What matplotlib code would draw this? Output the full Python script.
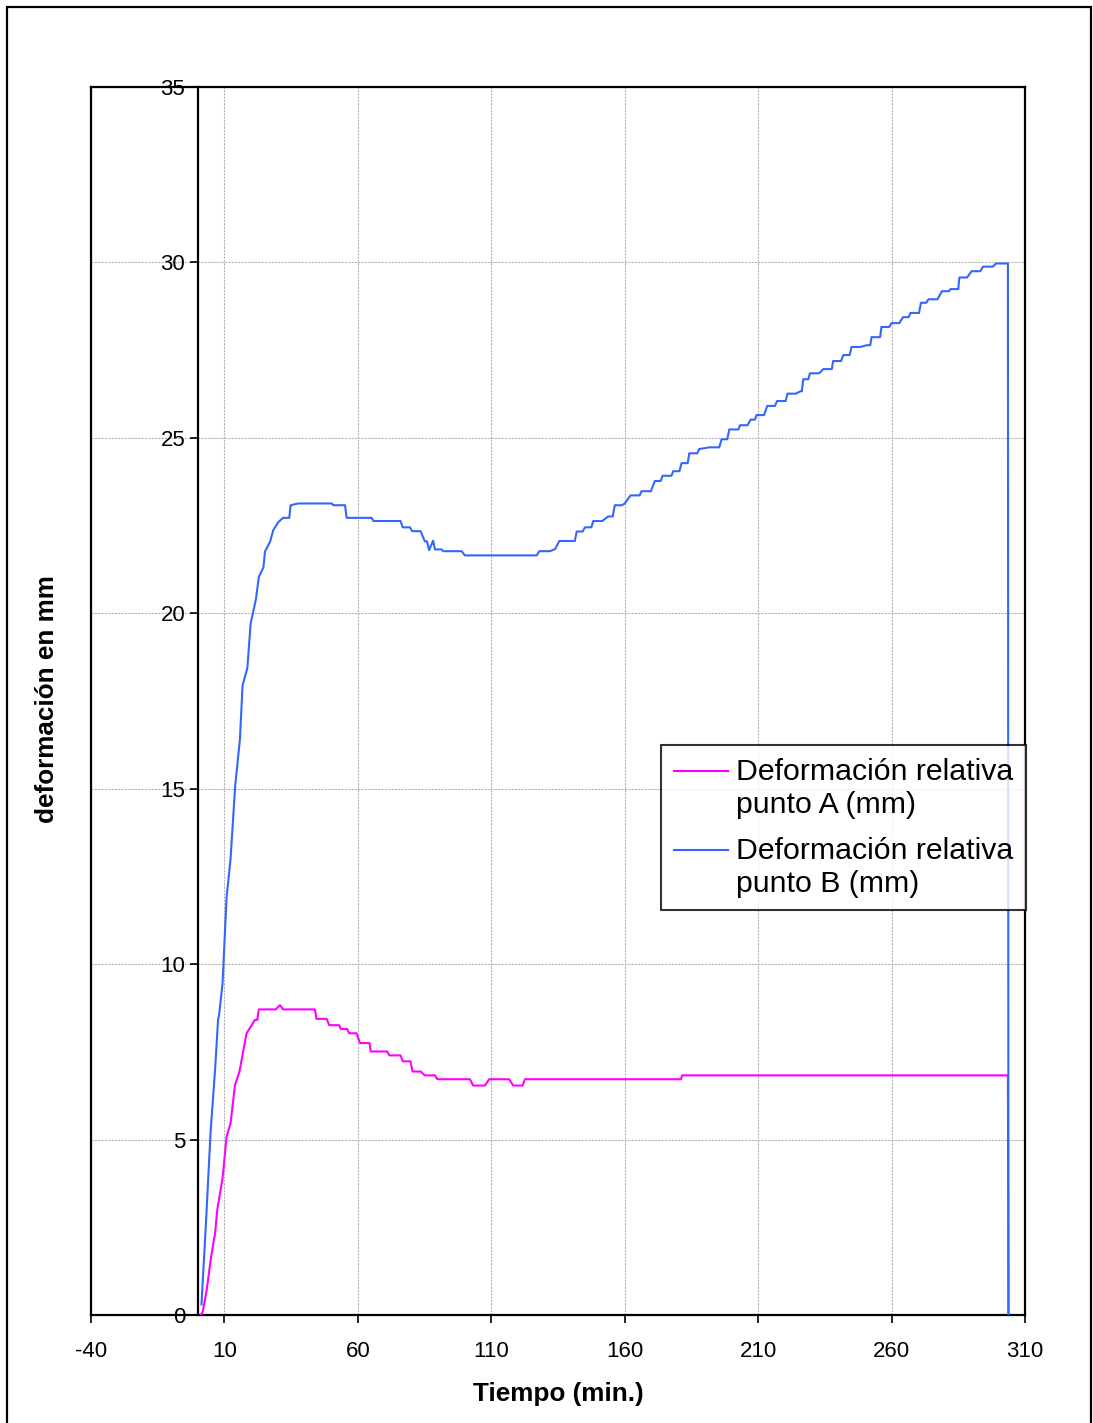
import matplotlib
matplotlib.use("Agg")
import matplotlib.pyplot as plt
from matplotlib.patches import Rectangle

plt.rcParams['font.family'] = ['Liberation Sans', 'DejaVu Sans']
plt.rcParams['axes.unicode_minus'] = False

# Tiempo (min.) / deformación (mm) - punto A
time_a = [1.2, 1.9, 3.35, 5.0, 6.5, 7.3, 9.3, 10.8, 12.3, 13.95, 15.6, 18.3, 20.2, 21.4, 22.3,
          22.9, 29.2, 30.8, 32.0, 43.9, 44.5, 48.3, 49.3, 53.0, 53.6, 56.0, 56.7, 59.5, 60.8,
          64.4, 64.8, 71.0, 71.8, 76.0, 76.8, 79.7, 80.5, 83.5, 85.1, 88.9, 89.8, 102.0, 103.2,
          107.6, 109.2, 116.7, 118.2, 121.7, 122.6, 181.1, 181.5, 303.6, 303.8]
def_a = [0.0, 0.1, 0.71, 1.66, 2.33, 2.99, 3.9, 5.08, 5.46, 6.55, 6.93, 8.03, 8.26, 8.41, 8.41,
         8.71, 8.71, 8.83, 8.71, 8.71, 8.44, 8.44, 8.26, 8.26, 8.15, 8.15, 8.03, 8.03, 7.75,
         7.75, 7.51, 7.51, 7.40, 7.40, 7.23, 7.23, 6.94, 6.94, 6.83, 6.83, 6.72, 6.72, 6.54,
         6.54, 6.72, 6.72, 6.54, 6.54, 6.72, 6.72, 6.83, 6.83, 0.0]

# punto B
time_b = [1.4, 3.2, 4.8, 6.5, 7.6, 8.0, 9.3, 10.8, 12.3, 14.0, 15.8, 16.8, 18.6, 19.8, 21.8,
          22.9, 24.6, 25.2, 27.1, 28.3, 30.2, 32.0, 34.3, 34.8, 37.7, 50.2, 50.8, 55.2, 55.8,
          65.2, 65.8, 76.0, 76.8, 79.5, 80.4, 83.5, 85.1, 85.9, 86.7, 88.2, 88.9, 91.4, 92.0,
          98.9, 100.1, 127.0, 128.0, 132.0, 133.9, 135.5, 141.3, 142.0, 144.2, 145.1, 147.5,
          148.2, 151.6, 153.8, 155.5, 156.3, 159.0, 160.0, 162.2, 165.6, 166.3, 169.8, 171.3,
          173.5, 174.2, 177.5, 178.2, 180.5, 181.3, 183.6, 184.2, 187.2, 187.9, 191.7, 195.4,
          196.3, 198.4, 199.2, 202.6, 203.2, 206.0, 207.2, 208.8, 209.4, 212.2, 213.4, 216.3,
          217.1, 220.3, 221.0, 224.2, 225.9, 226.4, 226.9, 228.8, 229.4, 232.9, 234.4, 237.6,
          238.1, 241.1, 241.9, 244.3, 245.0, 248.3, 250.6, 252.0, 252.5, 255.7, 256.2, 259.1,
          260.0, 262.9, 264.3, 266.4, 267.1, 270.3, 271.0, 273.0, 273.8, 277.2, 278.9, 281.5,
          282.1, 285.0, 285.4, 288.3, 290.0, 293.2, 294.3, 298.0, 299.1, 303.6, 303.8]
def_b = [0.3, 2.8, 5.2, 7.0, 8.4, 8.55, 9.46, 11.9, 13.0, 15.05, 16.4, 17.95, 18.44, 19.7, 20.4,
         21.04, 21.3, 21.76, 22.04, 22.37, 22.6, 22.72, 22.72, 23.08, 23.13, 23.13, 23.08, 23.08, 22.72,
         22.72, 22.63, 22.63, 22.45, 22.45, 22.34, 22.34, 22.05, 22.05, 21.8, 22.07, 21.82, 21.82, 21.77,
         21.77, 21.65, 21.65, 21.77, 21.77, 21.83, 22.06, 22.06, 22.33, 22.33, 22.45, 22.45,
         22.63, 22.63, 22.76, 22.76, 23.08, 23.08, 23.13, 23.36, 23.36, 23.48, 23.48, 23.77,
         23.77, 23.92, 23.92, 24.05, 24.05, 24.28, 24.28, 24.56, 24.56, 24.68, 24.73, 24.73,
         24.96, 24.96, 25.24, 25.24, 25.36, 25.36, 25.52, 25.52, 25.65, 25.65, 25.91, 25.91,
         26.05, 26.05, 26.26, 26.26, 26.33, 26.33, 26.67, 26.67, 26.84, 26.84, 26.96, 26.96,
         27.19, 27.19, 27.36, 27.36, 27.59, 27.59, 27.64, 27.64, 27.87, 27.87, 28.16, 28.16,
         28.27, 28.27, 28.44, 28.44, 28.56, 28.56, 28.85, 28.85, 28.95, 28.95, 29.18, 29.18,
         29.24, 29.24, 29.57, 29.57, 29.75, 29.75, 29.88, 29.88, 29.97, 29.97, 0.0]

x_ticks = [-40, 10, 60, 110, 160, 210, 260, 310]
y_ticks = [0, 5, 10, 15, 20, 25, 30, 35]
labels = ['Deformación relativa\npunto A (mm)', 'Deformación relativa\npunto B (mm)']

W, H = 1093, 1423
fig = plt.figure(figsize=(W / 100, H / 100), dpi=100)
ax = fig.add_axes([91 / W, 1 - 1315 / H, (1025 - 91) / W, (1315 - 87) / H])

ax.plot(time_a, def_a, color='#FF00FF', lw=1.5, label=labels[0], zorder=3)
ax.plot(time_b, def_b, color='#3366FF', lw=1.5, label=labels[1], zorder=3)

ax.set_xlim(-40, 310)
ax.set_ylim(0, 35)
ax.set_xticks(x_ticks)
ax.set_yticks(y_ticks)
ax.grid(True, color='#B4B4B4', linestyle=(0, (2, 1)), linewidth=0.8)
ax.set_axisbelow(True)

ax.spines['left'].set_position(('data', 0))
for s in ax.spines.values():
    s.set_linewidth(1.6)
    s.set_color('black')
ax.plot([0, 0], [0, 1], transform=ax.transAxes, color='black', lw=1.6, clip_on=False, zorder=4)

ax.tick_params(axis='both', labelsize=16, width=1.2, length=6, direction='out', color='black')
ax.tick_params(axis='x', pad=13)
ax.tick_params(axis='y', pad=3)

ax.set_xlabel('Tiempo (min.)', fontsize=18.8, fontweight='bold', labelpad=14)
fig.text(47 / W, 1 - 699 / H, 'deformación en mm', rotation=90, fontsize=18.8,
         fontweight='bold', ha='center', va='center')

leg = ax.legend(loc='upper left', bbox_to_anchor=((661 - 91) / 934, (1315 - 745) / 1228),
                fontsize=21.8, frameon=True, fancybox=False, handlelength=1.8,
                handletextpad=0.25, borderpad=0.42, labelspacing=0.6, borderaxespad=0)
leg.get_frame().set_edgecolor('black')
leg.get_frame().set_linewidth(1.5)
for t in leg.get_texts():
    t.set_linespacing(1.22)
for ln in leg.get_lines():
    yd = ln.get_ydata()
    ln.set_ydata([v + 12.5 for v in yd])
    ln.set_linewidth(1.5)

fig.patches.append(Rectangle((7 / W, -0.01), (1091 - 7) / W, 1 - 7 / H + 0.01,
                             transform=fig.transFigure, fill=False, edgecolor='black', lw=1.6))

fig.savefig('out.png', dpi=100)
